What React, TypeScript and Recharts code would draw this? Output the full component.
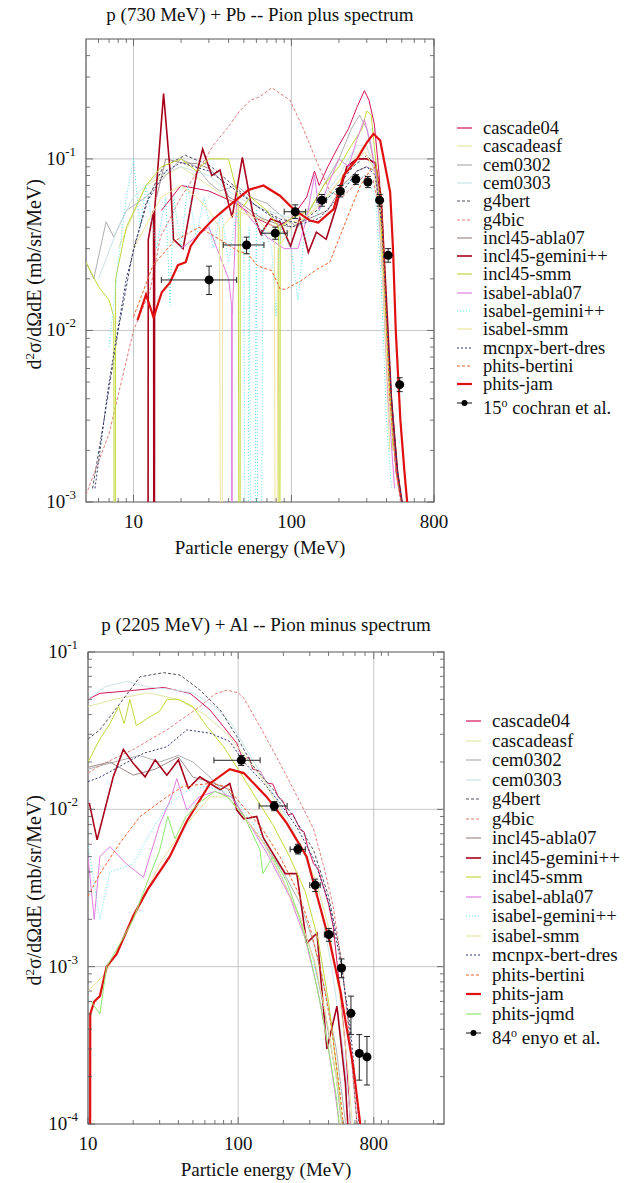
import React from 'react';
import { ComposedChart, Line, Scatter, ErrorBar, XAxis, YAxis, ReferenceLine, ReferenceArea } from 'recharts';

const FONT = '"Liberation Serif", "Times New Roman", Times, serif';
const Z = 1e-6; // zero value (drops to the bottom of a log axis)

// ---------------- TOP PANEL: p (730 MeV) + Pb, pi+ ----------------
const topXTicks = [10, 100, 800];
const topXMinor = [6, 7, 8, 9, 20, 30, 40, 50, 60, 70, 80, 90, 200, 300, 400, 500, 600, 700];
const topYTicks = [0.001, 0.01, 0.1];
const topYMinor = [0.002, 0.003, 0.004, 0.005, 0.006, 0.007, 0.008, 0.009, 0.02, 0.03, 0.04, 0.05, 0.06, 0.07, 0.08, 0.09, 0.2, 0.3, 0.4];

const t_cascade04 = [[15,0.05],[20,0.07],[30,0.065],[45,0.055],[60,0.045],[80,0.04],[100,0.045],[125,0.06],[140,0.085],[150,0.07],[170,0.09],[200,0.12],[230,0.15],[260,0.2],[290,0.25],[310,0.22],[335,0.16],[360,0.08],[390,0.02],[420,0.005],[460,0.0015],[520,0.0008]];
const t_cascadeasf = [[8,0.03],[12,0.07],[20,0.09],[30,0.07],[50,0.05],[80,0.04],[120,0.045],[170,0.06],[230,0.09],[290,0.12],[330,0.1],[360,0.05],[390,0.01],[420,0.002]];
const t_cem0302 = [[5,0.025],[5.6,0.02],[6.7,0.043],[7.5,0.035],[9,0.05],[12,0.06],[16,0.08],[20,0.1],[25,0.09],[30,0.073],[35,0.065],[45,0.07],[55,0.06],[70,0.055],[90,0.045],[110,0.04],[130,0.05],[160,0.07],[200,0.1],[240,0.15],[270,0.18],[300,0.15],[330,0.1],[360,0.06],[390,0.02],[420,0.005],[460,0.0015]];
const t_cem0303 = [[6,0.02],[8,0.04],[10,0.06],[14,0.08],[20,0.09],[30,0.08],[45,0.06],[70,0.05],[100,0.045],[150,0.055],[200,0.08],[260,0.12],[300,0.12],[340,0.08],[380,0.02],[420,0.004]];
const t_g4bert = [[5.5,0.0012],[6.5,0.003],[8,0.01],[10,0.03],[12.5,0.06],[15.4,0.09],[21.3,0.105],[30.6,0.091],[43,0.07],[60,0.053],[85,0.0446],[113,0.042],[145,0.05],[185,0.064],[245,0.09],[300,0.105],[345,0.09],[375,0.05],[400,0.012],[430,0.004],[470,0.0015],[520,0.0008]];
const t_g4bic = [[5,0.0011],[7,0.0025],[10,0.01],[12.7,0.017],[14.8,0.035],[20,0.06],[26,0.087],[32,0.12],[39,0.15],[47,0.19],[55,0.22],[63,0.23],[75,0.26],[85,0.24],[98,0.22],[119,0.15],[145,0.096],[176,0.064],[210,0.06],[250,0.07],[290,0.08],[330,0.075],[360,0.05],[390,0.015],[420,0.004],[460,0.0015],[520,0.0007]];
const t_incl45abla07 = [[14,0.06],[16,0.1],[20,0.095],[25,0.094],[30,0.088],[36,0.075],[40,0.06],[48,0.055],[55,0.05],[65,0.045],[80,0.042],[100,0.04],[130,0.045],[170,0.05],[210,0.07],[260,0.085],[300,0.09],[340,0.085],[370,0.05],[400,0.012],[440,0.003],[480,0.0012]];
const t_incl45gemini = [[12.3,Z],[12.4,0.034],[13.4,0.05],[13.5,Z],[13.6,0.05],[15.5,0.24],[17,0.087],[17.9,0.034],[20.6,0.03],[25.1,0.082],[27.4,0.114],[31.3,0.08],[35.3,0.086],[42.1,0.0456],[48.9,0.102],[56.8,0.0488],[64,0.0365],[73.8,0.0446],[85,0.0426],[98.6,0.031],[113,0.045],[128,0.0285],[144,0.0374],[166,0.034],[193,0.053],[224,0.09],[260,0.1],[300,0.1],[340,0.095],[370,0.06],[400,0.015],[430,0.004],[470,0.0015],[520,0.0008]];
const t_incl45smm = [[5,0.025],[6,0.018],[7,0.015],[7.5,0.012],[7.6,Z],[7.7,0.02],[9,0.04],[12,0.07],[15,0.09],[20,0.1],[25,0.085],[30,0.1],[40,0.1],[46,0.06],[47.2,Z],[47.4,0.05],[55,0.06],[70,0.05],[83,0.04],[84,Z],[85,0.04],[100,0.045],[130,0.05],[160,0.07],[200,0.09],[240,0.12],[280,0.15],[300,0.19],[320,0.18],[345,0.09],[370,0.04],[400,0.01],[440,0.002]];
const t_isabelabla07 = [[20,0.03],[30,0.04],[40,0.02],[41.8,0.014],[42,Z],[42.2,0.012],[45,0.058],[55,0.045],[70,0.035],[90,0.03],[110,0.03],[125,0.045],[140,0.08],[150,0.05],[170,0.07],[200,0.1],[230,0.09],[260,0.13],[290,0.17],[320,0.12],[350,0.07],[380,0.02],[410,0.004],[450,0.0012]];
const t_isabelgemini = [[7,0.008],[8,0.025],[9,0.06],[10,0.1],[11,0.04],[12,0.07],[14,0.03],[16,0.06],[17,0.014],[18,0.06],[20,0.03],[22,0.07],[25,0.035],[28,0.06],[32,0.03],[36,0.05],[40,0.025],[45,0.05],[50,0.03],[52,Z],[54,0.04],[57,Z],[60,0.05],[63,Z],[66,0.04],[75,0.03],[80,0.012],[85,0.04],[100,0.03],[110,0.015],[120,0.035],[140,0.045],[170,0.06],[210,0.07],[250,0.075],[300,0.08],[340,0.06],[370,0.02],[400,0.003],[430,0.0012]];
const t_isabelsmm = [[10,0.03],[15,0.06],[20,0.07],[25,0.06],[30,0.05],[35,0.04],[36.3,Z],[36.6,0.04],[45,0.05],[60,0.045],[78,0.035],[80,Z],[82,0.03],[100,0.04],[140,0.05],[190,0.07],[240,0.09],[290,0.11],[330,0.09],[360,0.05],[390,0.012],[420,0.003]];
const t_mcnpx = [[5.7,0.0012],[7,0.005],[9,0.02],[12,0.055],[16,0.085],[20,0.095],[30,0.085],[45,0.065],[70,0.048],[100,0.04],[150,0.045],[200,0.06],[260,0.085],[300,0.09],[340,0.08],[375,0.04],[400,0.012],[430,0.004],[470,0.0015],[520,0.0008]];
const t_phitsbertini = [[10,0.012],[13.3,0.024],[18,0.033],[26,0.04],[35,0.034],[47,0.0286],[52,0.0285],[61,0.0238],[75,0.0223],[85,0.0174],[92,0.0174],[114,0.0194],[145,0.0227],[175,0.025],[224,0.0446],[274,0.07],[318,0.087],[345,0.09],[370,0.06],[395,0.015],[420,0.004],[460,0.0015],[520,0.0008]];
const t_phitsjam = [[10.6,0.0115],[12,0.0162],[13.4,0.0119],[15.1,0.0167],[17,0.019],[19.1,0.024],[21.4,0.025],[23,0.031],[26.4,0.037],[32,0.0445],[40,0.053],[53.6,0.066],[66.5,0.07],[84.6,0.061],[103,0.051],[131,0.0437],[148,0.0426],[185,0.051],[214,0.08],[261,0.1],[301,0.125],[331,0.14],[365,0.128],[393,0.09],[422,0.064],[440,0.03],[458,0.01],[490,0.003],[520,0.0015],[560,0.0007]];
// [E, value, E low, E high, value low, value high]
const t_cochran = [[30.1,0.0197,15,45,0.0162,0.0237],[52,0.0315,37,67,0.028,0.035],[79,0.0369,65,94,0.034,0.04],[105.7,0.0492,90,123,0.045,0.054],[156,0.0575,145,167,0.053,0.062],[204,0.0647,195,214,0.06,0.07],[256,0.076,248,265,0.071,0.081],[305,0.0734,295,315,0.068,0.079],[362,0.0575,352,372,0.053,0.062],[410,0.0274,400,420,0.025,0.03],[485,0.00483,475,495,0.0044,0.0053]];

// ---------------- BOTTOM PANEL: p (2205 MeV) + Al, pi- ----------------
const botXTicks = [10, 100, 800];
const botXMinor = [20, 30, 40, 50, 60, 70, 80, 90, 200, 300, 400, 500, 600, 700, 900, 1000, 2000];
const botYTicks = [0.0001, 0.001, 0.01, 0.1];
const botYMinor = [0.0002, 0.0003, 0.0004, 0.0005, 0.0006, 0.0007, 0.0008, 0.0009, 0.002, 0.003, 0.004, 0.005, 0.006, 0.007, 0.008, 0.009, 0.02, 0.03, 0.04, 0.05, 0.06, 0.07, 0.08, 0.09];

const b_cascade04 = [[10,0.05],[12,0.0546],[20,0.057],[31.8,0.0596],[47.9,0.0546],[65,0.0428],[80,0.0335],[98,0.0263],[108,0.0205],[118,0.0215],[125,0.018],[140,0.0175],[155,0.0147],[170,0.0145],[185,0.012],[200,0.0112],[215,0.0092],[230,0.0094],[260,0.0074],[275,0.0072],[290,0.0058],[318,0.0045],[340,0.0042],[360,0.0035],[400,0.0025],[430,0.0018],[470,0.0008],[520,0.0003],[560,0.0001],[600,0.00004]];
const b_cascadeasf = [[10,0.045],[15,0.05],[25,0.055],[40,0.05],[60,0.04],[85,0.03],[110,0.022],[150,0.015],[200,0.009],[260,0.006],[330,0.0035],[400,0.0018],[470,0.0007],[540,0.00022],[600,0.00006]];
const b_cem0302 = [[10,0.018],[15,0.02],[22,0.022],[30,0.02],[40,0.022],[50,0.02],[65,0.016],[85,0.012],[110,0.009],[150,0.006],[200,0.004],[260,0.0025],[320,0.0014],[380,0.0007],[450,0.0003],[520,0.0001],[580,0.00004]];
const b_cem0303 = [[10,0.05],[13,0.06],[18,0.065],[25,0.06],[35,0.058],[50,0.055],[70,0.045],[90,0.035],[120,0.022],[160,0.014],[210,0.009],[280,0.005],[350,0.0025],[420,0.001],[500,0.0003],[580,0.00008]];
const b_g4bert = [[10,0.028],[12,0.032],[16.3,0.047],[22.2,0.0696],[31.8,0.0739],[41,0.0714],[55.6,0.0573],[76,0.0428],[98,0.029],[125,0.019],[172,0.0133],[234,0.009],[318,0.0055],[400,0.0028],[480,0.0012],[550,0.0004],[620,0.0001],[660,0.00004]];
const b_g4bic = [[10,0.017],[12,0.019],[20,0.024],[33.5,0.032],[55.6,0.045],[70,0.054],[84,0.0573],[100,0.055],[109,0.051],[140,0.0335],[190,0.0196],[260,0.011],[318,0.0075],[380,0.004],[430,0.0024],[500,0.0009],[560,0.0003],[620,0.0001],[660,0.00004]];
const b_incl45abla07 = [[10,0.0185],[14,0.02],[20,0.0165],[28,0.018],[40,0.0215],[50,0.016],[65,0.015],[85,0.0135],[110,0.009],[150,0.006],[200,0.0035],[260,0.002],[320,0.0011],[380,0.0005],[450,0.0002],[520,0.00006]];
const b_incl45gemini = [[10.2,0.011],[11.5,0.0064],[14.7,0.016],[17.2,0.024],[20,0.0196],[24,0.0161],[28,0.0206],[33.5,0.0165],[40,0.0206],[46.6,0.0136],[55.6,0.0161],[65,0.0146],[76,0.0133],[88,0.0146],[98,0.0099],[109,0.0087],[133,0.009],[147,0.0066],[206,0.0039],[246,0.0039],[286,0.00141],[335,0.00163],[390,0.0003],[455,0.00056],[518,0.000182],[560,0.00005]];
const b_incl45smm = [[10,0.02],[12,0.028],[14,0.035],[16,0.045],[17.4,0.035],[19,0.05],[21,0.034],[25,0.038],[30,0.042],[33.6,0.05],[40,0.05],[50,0.045],[60,0.035],[80,0.025],[100,0.018],[130,0.012],[170,0.008],[220,0.005],[280,0.003],[340,0.0015],[400,0.0006],[460,0.0002],[520,0.00006]];
const b_isabelabla07 = [[10,0.005],[11,0.002],[12,0.005],[14,0.0058],[18,0.0045],[23.4,0.0037],[30,0.008],[36,0.012],[39,0.0157],[45.5,0.0099],[55,0.012],[70,0.013],[90,0.012],[120,0.008],[160,0.005],[220,0.0028],[280,0.0015],[340,0.0007],[400,0.0003],[460,0.00012],[520,0.00004]];
const b_isabelgemini = [[10,0.006],[12,0.002],[14,0.004],[20,0.0045],[28,0.008],[35,0.011],[45,0.013],[60,0.014],[80,0.013],[100,0.011],[140,0.007],[190,0.004],[250,0.0022],[310,0.0012],[380,0.0005],[450,0.0002],[520,0.00006]];
const b_isabelsmm = [[10,0.0007],[13,0.0009],[20,0.002],[30,0.0045],[45,0.008],[65,0.012],[85,0.012],[110,0.009],[150,0.006],[200,0.0035],[260,0.002],[330,0.001],[400,0.0004],[470,0.00015],[530,0.00005]];
const b_mcnpx = [[10,0.015],[12,0.016],[23.4,0.0227],[33.5,0.025],[45.5,0.032],[65,0.0305],[88,0.027],[109,0.02],[145,0.015],[190,0.011],[250,0.0075],[320,0.0048],[400,0.0026],[480,0.0011],[560,0.0004],[640,0.0001],[680,0.00004]];
const b_phitsbertini = [[10,0.0028],[12,0.0039],[16.3,0.0061],[22.2,0.009],[33.5,0.012],[43,0.014],[65,0.0146],[84,0.014],[103,0.011],[145,0.0075],[190,0.005],[250,0.003],[300,0.0018],[360,0.0009],[420,0.0004],[480,0.00015],[540,0.00005]];
const b_phitsjam = [[10.3,Z],[10.35,0.0005],[11,0.0006],[12,0.00065],[13.3,0.001],[15.5,0.0012],[20,0.0021],[25,0.0031],[35,0.005],[45.5,0.0084],[65,0.0146],[88,0.018],[109,0.017],[155,0.012],[210,0.0082],[286,0.005],[318,0.0034],[410,0.0014],[480,0.0007],[585,0.00023],[650,0.0001],[700,0.00005]];
const b_phitsjqmd = [[10.5,0.0006],[12,0.0005],[13.3,0.001],[17,0.0015],[20,0.002],[25,0.0035],[30,0.0055],[34,0.009],[38,0.0065],[45,0.009],[55,0.011],[70,0.013],[85,0.012],[110,0.009],[140,0.0055],[146,0.0039],[170,0.005],[210,0.0035],[250,0.0022],[300,0.0012],[350,0.0006],[400,0.0003],[450,0.00015],[500,0.00006]];
const b_enyo = [[105,0.0205,69,140,0.019,0.022],[174,0.0105,138,212,0.0098,0.0112],[250,0.00557,222,280,0.0052,0.006],[326,0.0033,300,352,0.003,0.0036],[402,0.0016,375,430,0.00145,0.00175],[488,0.00098,465,512,0.00085,0.00112],[564,0.000505,550,578,0.00037,0.00065],[641,0.000281,635,647,0.00019,0.00037],[721,0.000267,715,727,0.000177,0.00036]];

// ---------------- styles ----------------
const STY: Record<string, { color: string; w: number; dash?: string }> = {
  'cascade04': { color: '#d4145a', w: 1 },
  'cascadeasf': { color: '#e4e4a4', w: 1 },
  'cem0302': { color: '#b0b0b0', w: 1 },
  'cem0303': { color: '#c8e4ea', w: 1 },
  'g4bert': { color: '#505060', w: 1, dash: '3 2' },
  'g4bic': { color: '#e07a7a', w: 1, dash: '3 2' },
  'incl45-abla07': { color: '#a08c8c', w: 1 },
  'incl45-gemini++': { color: '#a8001c', w: 1.6 },
  'incl45-smm': { color: '#c4d83a', w: 1 },
  'isabel-abla07': { color: '#e07ee0', w: 1 },
  'isabel-gemini++': { color: '#5ee6f0', w: 1, dash: '1 2' },
  'isabel-smm': { color: '#f0e4a0', w: 1 },
  'mcnpx-bert-dres': { color: '#303878', w: 1, dash: '2 2' },
  'phits-bertini': { color: '#e8642a', w: 1, dash: '3 2' },
  'phits-jam': { color: '#e01010', w: 2.2 },
  'phits-jqmd': { color: '#90e870', w: 1 },
};

const topSeries: [string, number[][]][] = [
  ['cascade04', t_cascade04], ['cascadeasf', t_cascadeasf], ['cem0302', t_cem0302], ['cem0303', t_cem0303],
  ['g4bert', t_g4bert], ['g4bic', t_g4bic], ['incl45-abla07', t_incl45abla07], ['incl45-gemini++', t_incl45gemini],
  ['incl45-smm', t_incl45smm], ['isabel-abla07', t_isabelabla07], ['isabel-gemini++', t_isabelgemini], ['isabel-smm', t_isabelsmm],
  ['mcnpx-bert-dres', t_mcnpx], ['phits-bertini', t_phitsbertini], ['phits-jam', t_phitsjam],
];
const botSeries: [string, number[][]][] = [
  ['cascade04', b_cascade04], ['cascadeasf', b_cascadeasf], ['cem0302', b_cem0302], ['cem0303', b_cem0303],
  ['g4bert', b_g4bert], ['g4bic', b_g4bic], ['incl45-abla07', b_incl45abla07], ['incl45-gemini++', b_incl45gemini],
  ['incl45-smm', b_incl45smm], ['isabel-abla07', b_isabelabla07], ['isabel-gemini++', b_isabelgemini], ['isabel-smm', b_isabelsmm],
  ['mcnpx-bert-dres', b_mcnpx], ['phits-bertini', b_phitsbertini], ['phits-jam', b_phitsjam], ['phits-jqmd', b_phitsjqmd],
];

const pts = (a: number[][]) => a.map(([e, v]) => ({ e, v }));
const expPts = (a: number[][]) => a.map(([e, v, xl, xh, yl, yh]) => ({ e, v, ex: [e - xl, xh - e], ey: [v - yl, yh - v] }));

const FRAME = '#555';

function makeYTick(left: number, right: number) {
  return (props: any) => {
    const { y, payload } = props;
    const val = payload.value;
    const lg = Math.log10(val);
    const ex = Math.round(lg);
    const major = Math.abs(lg - ex) < 1e-6;
    const len = major ? 7 : 4;
    return (
      <g>
        <line x1={left} x2={left + len} y1={y} y2={y} stroke={FRAME} strokeWidth={0.8} />
        <line x1={right - len} x2={right} y1={y} y2={y} stroke={FRAME} strokeWidth={0.8} />
        {major && (
          <text x={left - 10} y={y + 6} textAnchor="end" fontFamily={FONT} fontSize={19} fill="#111">
            10<tspan dy={-9} fontSize={13}>{String(ex)}</tspan>
          </text>
        )}
      </g>
    );
  };
}

function makeXTick(top: number, bottom: number, labels: number[]) {
  return (props: any) => {
    const { x, payload } = props;
    const v = payload.value;
    const major = labels.includes(v);
    const len = major ? 7 : 4;
    return (
      <g>
        <line x1={x} x2={x} y1={bottom} y2={bottom - len} stroke={FRAME} strokeWidth={0.8} />
        <line x1={x} x2={x} y1={top} y2={top + len} stroke={FRAME} strokeWidth={0.8} />
        {major && (
          <text x={x} y={bottom + 26} textAnchor="middle" fontFamily={FONT} fontSize={19} fill="#111">{v}</text>
        )}
      </g>
    );
  };
}

function Legend({ names, x, y0, step, fs, exp }: { names: string[]; x: number; y0: number; step: number; fs: number; exp: React.ReactNode }) {
  const row = (i: number): React.CSSProperties => ({ position: 'absolute', left: x, top: y0 + i * step - 10, height: 20, lineHeight: '20px', fontFamily: FONT, fontSize: fs, color: '#111', whiteSpace: 'nowrap' });
  return (
    <>
      {names.map((n, i) => {
        const s = STY[n];
        return (
          <div key={n} style={row(i)}>
            <svg width={18} height={20} style={{ position: 'absolute', left: -27, top: 0 }}>
              <line x1={1} x2={16} y1={10} y2={10} stroke={s.color} strokeWidth={Math.max(1.2, s.w)} strokeDasharray={s.dash} />
            </svg>
            {n}
          </div>
        );
      })}
      <div style={row(names.length)}>
        <svg width={18} height={20} style={{ position: 'absolute', left: -27, top: 0 }}>
          <line x1={1} x2={16} y1={10} y2={10} stroke="#111" strokeWidth={1} />
          <circle cx={8.5} cy={10} r={3} fill="#000" />
        </svg>
        {exp}
      </div>
    </>
  );
}

function Panel(props: {
  series: [string, number[][]][]; exp: number[][]; xDomain: number[]; yDomain: number[];
  xTicks: number[]; xMinor: number[]; yTicks: number[]; yMinor: number[];
  xGrid: number[]; yGrid: number[]; left: number; right: number; top: number; bottom: number; height: number;
}) {
  const { series, exp, xDomain, yDomain, xTicks, xMinor, yTicks, yMinor, xGrid, yGrid, left, right, top, bottom, height } = props;
  const W = 634;
  const yAxisW = 60;
  const xAxisH = 50;
  const allX = [...xMinor, ...xTicks].filter((v) => v >= xDomain[0] && v <= xDomain[1]).sort((a, b) => a - b);
  const allY = [...yMinor, ...yTicks].filter((v) => v >= yDomain[0] && v <= yDomain[1]).sort((a, b) => a - b);
  return (
    <ComposedChart width={W} height={height} margin={{ top, left: left - yAxisW, right: W - right, bottom: height - bottom - xAxisH }}>
      <XAxis dataKey="e" type="number" scale="log" domain={xDomain} allowDataOverflow ticks={allX} interval={0}
        tick={makeXTick(top, bottom, xTicks)} tickLine={false} axisLine={false} height={xAxisH} />
      <YAxis type="number" scale="log" domain={yDomain} allowDataOverflow ticks={allY} interval={0}
        tick={makeYTick(left, right)} tickLine={false} axisLine={false} width={yAxisW} />
      {xGrid.map((g) => <ReferenceLine key={'x' + g} x={g} stroke="#b8b8b8" strokeWidth={0.8} />)}
      {yGrid.map((g) => <ReferenceLine key={'y' + g} y={g} stroke="#b8b8b8" strokeWidth={0.8} />)}
      {series.map(([n, d]) => {
        const s = STY[n];
        return (
          <Line key={n} data={pts(d)} dataKey="v" type="linear" stroke={s.color} strokeWidth={s.w} strokeDasharray={s.dash}
            dot={false} activeDot={false} isAnimationActive={false} legendType="none" />
        );
      })}
      <Scatter data={expPts(exp)} dataKey="v" isAnimationActive={false}
        shape={(p: any) => <circle cx={p.cx} cy={p.cy} r={4.5} fill="#000" />}>
        <ErrorBar dataKey="ex" direction="x" width={3} stroke="#222" strokeWidth={1} />
        <ErrorBar dataKey="ey" direction="y" width={3} stroke="#222" strokeWidth={1} />
      </Scatter>
      <ReferenceArea x1={xDomain[0]} x2={xDomain[1]} y1={yDomain[0]} y2={yDomain[1]} fill="none" fillOpacity={0} stroke={FRAME} strokeWidth={1.2} />
    </ComposedChart>
  );
}

const txt: React.CSSProperties = { position: 'absolute', fontFamily: FONT, color: '#111', whiteSpace: 'nowrap' };

export default function App() {
  return (
    <div style={{ position: 'absolute', left: 0, top: 0, width: 634, height: 1183, background: '#fff', overflow: 'hidden' }}>
      {/* top panel */}
      <div style={{ position: 'absolute', left: 0, top: 0 }}>
        <Panel series={topSeries} exp={t_cochran} xDomain={[5, 800]} yDomain={[0.001, 0.5]}
          xTicks={topXTicks} xMinor={topXMinor} yTicks={topYTicks} yMinor={topYMinor}
          xGrid={[10, 100]} yGrid={[0.01, 0.1]} left={86} right={434} top={39} bottom={502} height={590} />
      </div>
      <div style={{ ...txt, left: 86, width: 348, top: 4, textAlign: 'center', fontSize: 19, lineHeight: '22px' }}>
        p (730 MeV) + Pb -- Pion plus spectrum
      </div>
      <div style={{ ...txt, left: 86, width: 348, top: 537, textAlign: 'center', fontSize: 19, lineHeight: '22px' }}>
        Particle energy (MeV)
      </div>
      <div style={{ ...txt, left: 32 - 150, top: 272 - 11, width: 300, textAlign: 'center', fontSize: 20, lineHeight: '22px', transform: 'rotate(-90deg)' }}>
        d<sup style={{ fontSize: 13 }}>2</sup>σ/dΩdE (mb/sr/MeV)
      </div>
      <Legend names={topSeries.map((s) => s[0])} x={483} y0={128} step={18.3} fs={18.5}
        exp={<span>15<sup style={{ fontSize: 12 }}>o</sup> cochran et al.</span>} />

      {/* bottom panel */}
      <div style={{ position: 'absolute', left: 0, top: 590 }}>
        <Panel series={botSeries} exp={b_enyo} xDomain={[10, 2350]} yDomain={[0.0001, 0.1]}
          xTicks={botXTicks} xMinor={botXMinor} yTicks={botYTicks} yMinor={botYMinor}
          xGrid={[100, 800]} yGrid={[0.001, 0.01]} left={88} right={444} top={62} bottom={534} height={593} />
      </div>
      <div style={{ ...txt, left: 88, width: 356, top: 614, textAlign: 'center', fontSize: 19, lineHeight: '22px' }}>
        p (2205 MeV) + Al -- Pion minus spectrum
      </div>
      <div style={{ ...txt, left: 88, width: 356, top: 1159, textAlign: 'center', fontSize: 19, lineHeight: '22px' }}>
        Particle energy (MeV)
      </div>
      <div style={{ ...txt, left: 32 - 150, top: 888 - 11, width: 300, textAlign: 'center', fontSize: 20, lineHeight: '22px', transform: 'rotate(-90deg)' }}>
        d<sup style={{ fontSize: 13 }}>2</sup>σ/dΩdE (mb/sr/MeV)
      </div>
      <Legend names={botSeries.map((s) => s[0])} x={492} y0={721} step={19.5} fs={19}
        exp={<span>84<sup style={{ fontSize: 12 }}>o</sup> enyo et al.</span>} />
    </div>
  );
}
